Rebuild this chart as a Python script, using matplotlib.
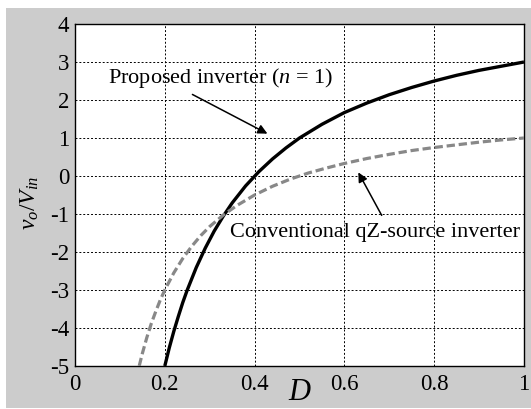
import matplotlib
matplotlib.use("Agg")
import matplotlib.pyplot as plt
from matplotlib.patches import Rectangle

plt.rcParams['font.family'] = 'Liberation Serif'
plt.rcParams['mathtext.fontset'] = 'custom'
plt.rcParams['mathtext.rm'] = 'Liberation Serif'
plt.rcParams['mathtext.it'] = 'Liberation Serif:italic'
plt.rcParams['axes.unicode_minus'] = False

# === Data ===
d_prop = [0.20, 0.21, 0.22, 0.23, 0.24, 0.25, 0.27, 0.29, 0.31, 0.33, 0.35, 0.38, 0.41,
          0.44, 0.47, 0.50, 0.55, 0.60, 0.65, 0.70, 0.75, 0.80, 0.85, 0.90, 0.95, 1.00]
g_prop = [-5.00, -4.52, -4.09, -3.70, -3.33, -3.00, -2.41, -1.90, -1.45, -1.06, -0.71, -0.26, 0.12,
          0.45, 0.74, 1.00, 1.36, 1.67, 1.92, 2.14, 2.33, 2.50, 2.65, 2.78, 2.89, 3.00]

d_conv = [0.143, 0.15, 0.16, 0.17, 0.18, 0.19, 0.20, 0.22, 0.24, 0.26, 0.28, 0.30, 0.33, 0.36,
          0.40, 0.44, 0.48, 0.52, 0.56, 0.60, 0.65, 0.70, 0.75, 0.80, 0.85, 0.90, 0.95, 1.00]
g_conv = [-5.00, -4.67, -4.25, -3.88, -3.56, -3.26, -3.00, -2.55, -2.17, -1.85, -1.57, -1.33, -1.03, -0.78,
          -0.50, -0.27, -0.08, 0.08, 0.21, 0.33, 0.46, 0.57, 0.67, 0.75, 0.82, 0.89, 0.95, 1.00]

x_ticks = [0, 0.2, 0.4, 0.6, 0.8, 1]
x_tick_labels = ['0', '0.2', '0.4', '0.6', '0.8', '1']
y_ticks = [-5, -4, -3, -2, -1, 0, 1, 2, 3, 4]

fig = plt.figure(figsize=(5.31, 4.09), dpi=100, facecolor='white')
fig.patches.append(Rectangle((6 / 531, 1 / 409), 1, 400 / 409, transform=fig.transFigure,
                             facecolor='#cccccc', edgecolor='none', zorder=-10))
ax = fig.add_axes([75 / 531, 1 - 366 / 409, 449 / 531, 342 / 409])

ax.plot(d_prop, g_prop, color='black', lw=2.4, solid_capstyle='butt', zorder=3)
ax.plot(d_conv, g_conv, color='#888888', lw=2.3, dashes=(2.6, 1.2), zorder=3)

ax.set_xlim(0, 1)
ax.set_ylim(-5, 4)
ax.set_xticks(x_ticks)
ax.set_xticklabels(x_tick_labels)
ax.set_yticks(y_ticks)
ax.tick_params(direction='in', length=0, labelsize=16.5)
ax.tick_params(axis='x', pad=6)
ax.tick_params(axis='y', pad=4)
ax.grid(True, color='black', linestyle=(0, (2, 2)), linewidth=0.7)
for s in ax.spines.values():
    s.set_linewidth(1.0)

ax.text(0.0735, 2.45, 'Proposed inverter ($n$ = 1)', fontsize=16, ha='left', va='baseline')
ax.annotate('', xy=(0.434, 1.08), xytext=(0.256, 2.18),
            arrowprops=dict(arrowstyle='-|>', color='black', lw=1.1, mutation_scale=14))
ax.text(0.345, -1.61, 'Conventional qZ-source inverter', fontsize=16, ha='left', va='baseline')
ax.annotate('', xy=(0.628, 0.16), xytext=(0.686, -1.1),
            arrowprops=dict(arrowstyle='-|>', color='black', lw=1.1, mutation_scale=14))

fig.text(300 / 531, 1 - 392 / 409, '$D$', fontsize=22, ha='center', va='center')
fig.text(30 / 531, 1 - 203 / 409, '$v_o/V_{in}$', fontsize=17, ha='center', va='center', rotation=90)

fig.savefig('out.png', dpi=100)
